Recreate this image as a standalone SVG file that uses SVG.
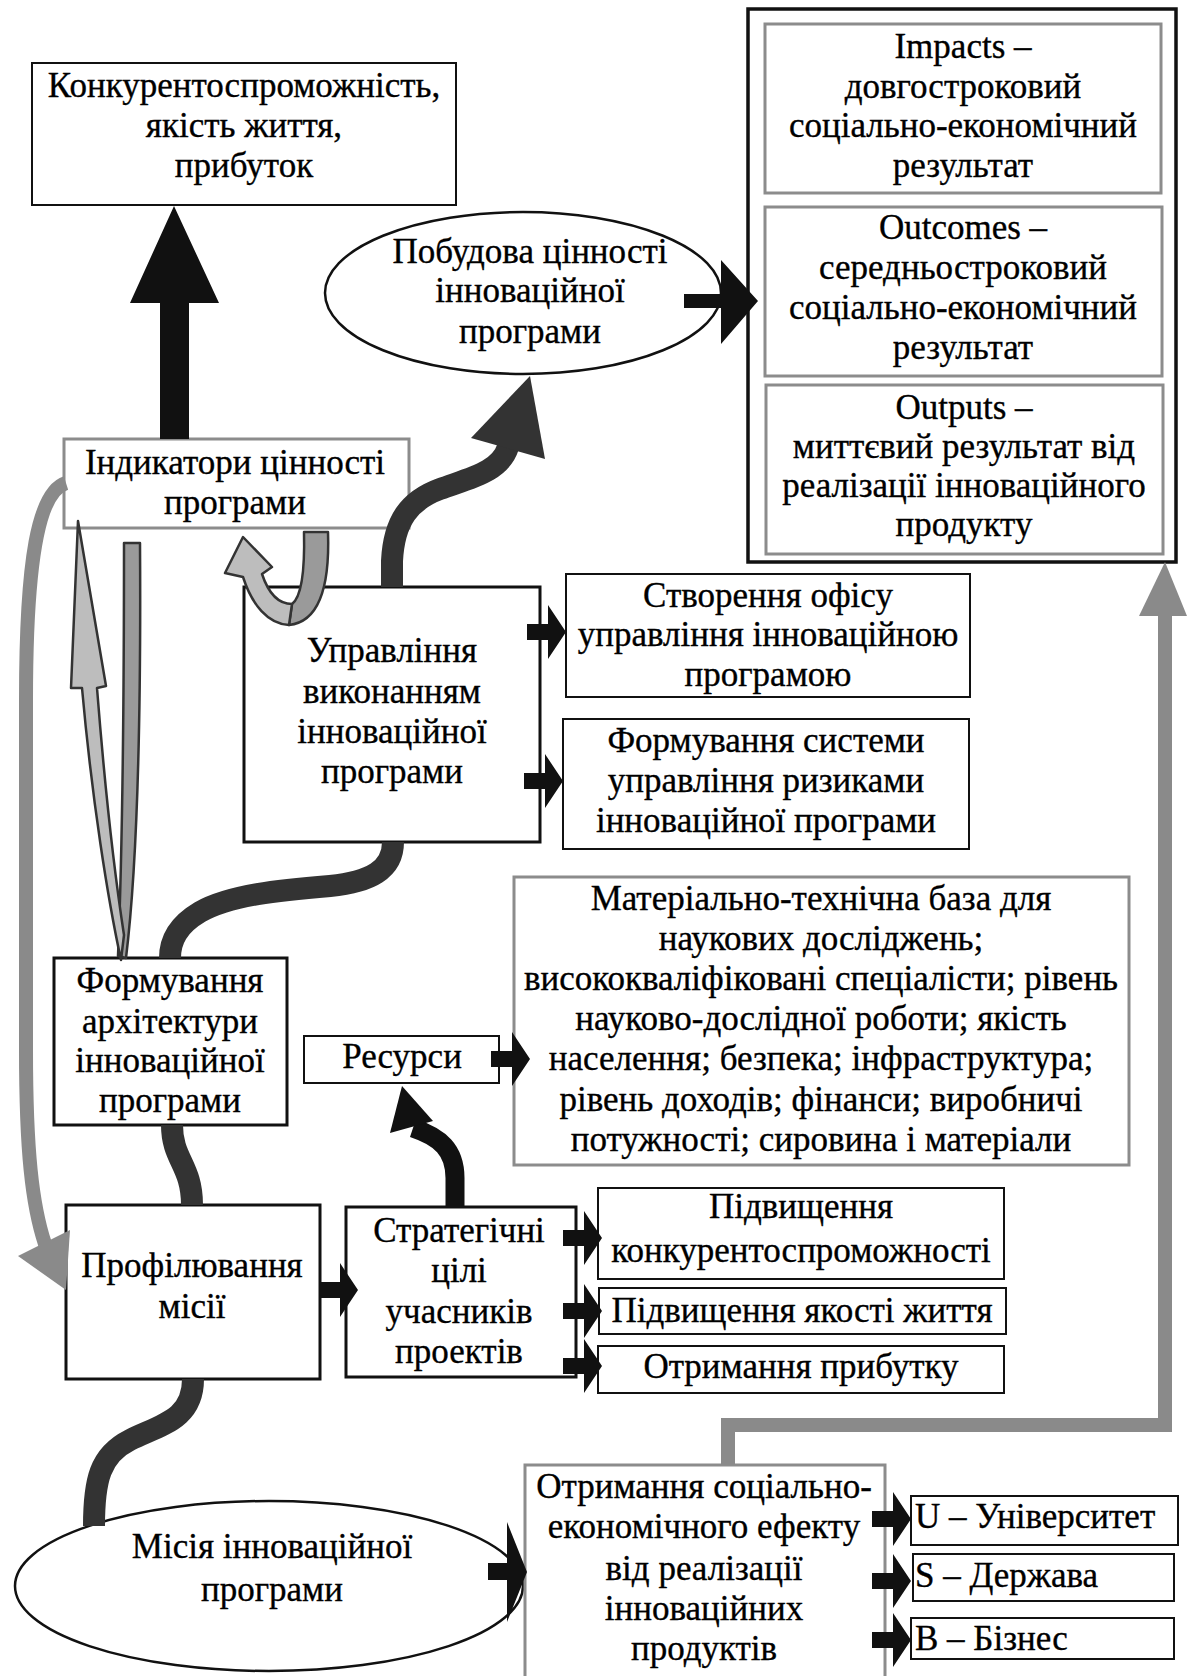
<svg xmlns="http://www.w3.org/2000/svg" width="1187" height="1676" viewBox="0 0 1187 1676">
  <style>
    .t { font-family: "Liberation Serif", "Times New Roman", serif; font-size: 35px; fill: #000; stroke: #000; stroke-width: 0.35; text-anchor: middle; }
    .tl { text-anchor: start; }
    .box { fill: #fff; stroke: #111; stroke-width: 2; }
    .bbox { fill: #fff; stroke: #111; stroke-width: 3; }
    .gbox { fill: #fff; stroke: #8c8c8c; stroke-width: 3; }
    .dark { fill: none; stroke: #333; stroke-width: 22; }
    .darkfill { fill: #333; }
    .blk { fill: #111; }
    .blkline { fill: none; stroke: #111; stroke-width: 19; }
    .gray { fill: none; stroke: #8a8a8a; stroke-width: 14; stroke-linejoin: miter; }
    .grayfill { fill: #8a8a8a; }
    .ribbonA { fill: #9a9a9a; stroke: #333; stroke-width: 2.5; stroke-linejoin: round; }
    .ribbonB { fill: #bdbdbd; stroke: #333; stroke-width: 2.5; stroke-linejoin: round; }
  </style>
  <defs>
    <!-- small block arrow, tip at the origin, pointing right -->
    <path id="ba" d="M -39 -8 L -18 -8 L -18 -27 L 0 0 L -18 27 L -18 8 L -39 8 Z"/>
  </defs>
  <rect width="1187" height="1676" fill="#fff"/>

  <g id="goal">
    <rect class="box" x="32" y="63" width="424" height="142"/>
    <text class="t" x="244" y="97">Конкурентоспроможність,</text>
    <text class="t" x="244" y="137">якість життя,</text>
    <text class="t" x="244" y="177">прибуток</text>
  </g>

  <g id="results">
    <rect fill="#fff" stroke="#111" stroke-width="3.5" x="748" y="9" width="428" height="553"/>
    <g id="impacts">
      <rect class="gbox" x="765" y="24" width="396" height="169"/>
      <text class="t" x="963" y="58">Impacts –</text>
      <text class="t" x="963" y="98">довгостроковий</text>
      <text class="t" x="963" y="137">соціально-економічний</text>
      <text class="t" x="963" y="177">результат</text>
    </g>
    <g id="outcomes">
      <rect class="gbox" x="765" y="207" width="397" height="169"/>
      <text class="t" x="963" y="239">Outcomes –</text>
      <text class="t" x="963" y="279">середньостроковий</text>
      <text class="t" x="963" y="319">соціально-економічний</text>
      <text class="t" x="963" y="359">результат</text>
    </g>
    <g id="outputs">
      <rect class="gbox" x="766" y="385" width="397" height="169"/>
      <text class="t" x="964" y="419">Outputs –</text>
      <text class="t" x="964" y="458">миттєвий результат від</text>
      <text class="t" x="964" y="497">реалізації інноваційного</text>
      <text class="t" x="964" y="536">продукту</text>
    </g>
  </g>

  <g id="value">
    <ellipse fill="#fff" stroke="#111" stroke-width="2.5" cx="523" cy="293" rx="198" ry="81"/>
    <text class="t" x="530" y="263">Побудова цінності</text>
    <text class="t" x="530" y="302">інноваційної</text>
    <text class="t" x="530" y="343">програми</text>
  </g>

  <g id="indicators">
    <rect class="gbox" x="64" y="439" width="345" height="89"/>
    <text class="t" x="235" y="474">Індикатори цінності</text>
    <text class="t" x="235" y="514">програми</text>
  </g>

  <g id="execution">
    <rect class="bbox" x="244" y="587" width="296" height="255"/>
    <text class="t" x="392" y="662">Управління</text>
    <text class="t" x="392" y="703">виконанням</text>
    <text class="t" x="392" y="743">інноваційної</text>
    <text class="t" x="392" y="783">програми</text>
  </g>

  <g id="office">
    <rect class="box" x="566" y="574" width="404" height="123"/>
    <text class="t" x="768" y="607">Створення офісу</text>
    <text class="t" x="768" y="646">управління інноваційною</text>
    <text class="t" x="768" y="686">програмою</text>
  </g>

  <g id="risks">
    <rect class="box" x="563" y="719" width="406" height="130"/>
    <text class="t" x="766" y="752">Формування системи</text>
    <text class="t" x="766" y="792">управління ризиками</text>
    <text class="t" x="766" y="832">інноваційної програми</text>
  </g>

  <g id="resource-list">
    <rect class="gbox" x="514" y="877" width="615" height="288"/>
    <text class="t" x="821" y="910">Матеріально-технічна база для</text>
    <text class="t" x="821" y="950">наукових досліджень;</text>
    <text class="t" x="821" y="990">висококваліфіковані спеціалісти; рівень</text>
    <text class="t" x="821" y="1030">науково-дослідної роботи; якість</text>
    <text class="t" x="821" y="1070">населення; безпека; інфраструктура;</text>
    <text class="t" x="821" y="1111">рівень доходів; фінанси; виробничі</text>
    <text class="t" x="821" y="1151">потужності; сировина і матеріали</text>
  </g>

  <g id="resources">
    <rect class="box" x="304" y="1036" width="195" height="47"/>
    <text class="t" x="402" y="1068">Ресурси</text>
  </g>

  <g id="architecture">
    <rect class="bbox" x="54" y="958" width="233" height="167"/>
    <text class="t" x="170" y="992">Формування</text>
    <text class="t" x="170" y="1033">архітектури</text>
    <text class="t" x="170" y="1072">інноваційної</text>
    <text class="t" x="170" y="1112">програми</text>
  </g>

  <g id="profiling">
    <rect class="bbox" x="66" y="1205" width="254" height="174"/>
    <text class="t" x="192" y="1277">Профілювання</text>
    <text class="t" x="192" y="1318">місії</text>
  </g>

  <g id="strategic">
    <rect class="bbox" x="346" y="1207" width="230" height="170"/>
    <text class="t" x="459" y="1242">Стратегічні</text>
    <text class="t" x="459" y="1282">цілі</text>
    <text class="t" x="459" y="1323">учасників</text>
    <text class="t" x="459" y="1363">проектів</text>
  </g>

  <g id="goal-competitiveness">
    <rect class="box" x="598" y="1188" width="406" height="91"/>
    <text class="t" x="801" y="1218">Підвищення</text>
    <text class="t" x="801" y="1262">конкурентоспроможності</text>
  </g>
  <g id="goal-life">
    <rect class="box" x="599" y="1288" width="407" height="46"/>
    <text class="t" x="802" y="1322">Підвищення якості життя</text>
  </g>
  <g id="goal-profit">
    <rect class="box" x="598" y="1346" width="406" height="47"/>
    <text class="t" x="801" y="1378">Отримання прибутку</text>
  </g>

  <g id="mission">
    <ellipse fill="#fff" stroke="#111" stroke-width="2.5" cx="269" cy="1586" rx="254" ry="85"/>
    <text class="t" x="272" y="1558">Місія інноваційної</text>
    <text class="t" x="272" y="1601">програми</text>
  </g>

  <g id="effect">
    <rect class="gbox" x="525" y="1465" width="360" height="260"/>
    <text class="t" x="704" y="1498">Отримання соціально-</text>
    <text class="t" x="704" y="1538">економічного ефекту</text>
    <text class="t" x="704" y="1580">від реалізації</text>
    <text class="t" x="704" y="1620">інноваційних</text>
    <text class="t" x="704" y="1660">продуктів</text>
  </g>

  <g id="university">
    <rect class="box" x="911" y="1496" width="267" height="49"/>
    <text class="t tl" x="915" y="1528">U – Університет</text>
  </g>
  <g id="state">
    <rect class="box" x="913" y="1554" width="261" height="47"/>
    <text class="t tl" x="915" y="1587">S – Держава</text>
  </g>
  <g id="business">
    <rect class="box" x="911" y="1618" width="263" height="41"/>
    <text class="t tl" x="915" y="1650">B – Бізнес</text>
  </g>

  <g id="connectors">
    <!-- indicators up to the goal box -->
    <path class="blk" d="M 160 439 L 160 303 L 130 303 L 174 206 L 219 303 L 189 303 L 189 439 Z"/>
    <!-- value building to results -->
    <path class="blk" d="M 684 294 L 721 294 L 721 260 L 758 301 L 721 344 L 721 308 L 684 308 Z"/>

    <!-- execution up to value building -->
    <path class="dark" d="M 392 587 L 392 561 C 394 520 410 500 440 489 C 470 478 500 472 508 447"/>
    <path class="darkfill" d="M 471 438 L 530 376 L 545 459 Z"/>
    <!-- execution down to architecture -->
    <path class="dark" d="M 393 842 C 393 870 370 882 330 886 C 280 890 230 895 200 912 C 178 925 170 940 170 958"/>
    <!-- architecture down to profiling -->
    <path class="dark" d="M 172 1125 C 172 1160 192 1165 192 1205"/>
    <!-- profiling down to mission -->
    <path class="dark" d="M 193 1379 C 193 1420 160 1425 130 1440 C 100 1455 94 1480 94 1526"/>

    <!-- strategic goals up to resources -->
    <path class="blkline" d="M 455 1207 L 455 1178 C 455 1150 440 1137 413 1128"/>
    <path class="blk" d="M 390 1133 L 402 1086 L 433 1121 Z"/>

    <!-- indicators back down to profiling -->
    <path class="gray" d="M 66 483 C 38 492 26 560 26 700 L 26 1050 C 26 1150 32 1205 45 1244"/>
    <path class="grayfill" d="M 18 1256 L 70 1230 L 66 1290 Z"/>

    <!-- effect up to results -->
    <path class="gray" d="M 728 1465 L 728 1425 L 1165 1425 L 1165 612"/>
    <path class="grayfill" d="M 1139 616 L 1165 562 L 1187 616 Z"/>

    <!-- ribbon loop from architecture to indicators -->
    <path class="ribbonA" d="M 124 543 L 140 543 C 141 700 138 860 126 958 L 118 956 C 122 860 124 700 124 543 Z"/>
    <path class="ribbonB" d="M 121 960 C 108 900 92 800 82 688 L 71 688 L 78 521 L 106 686 L 97 688 C 105 790 114 870 124 935 Z"/>
    <!-- ribbon loop from execution to indicators -->
    <path class="ribbonA" d="M 304 532 L 328 532 C 330 590 318 622 289 625 L 292 604 C 300 598 305 575 304 532 Z"/>
    <path class="ribbonB" d="M 289 625 C 268 624 252 605 243 577 L 225 573 L 243 537 L 272 567 L 262 574 C 268 592 278 604 292 604 Z"/>

    <!-- small block arrows -->
    <use href="#ba" class="blk" x="566" y="632"/>
    <use href="#ba" class="blk" x="563" y="781"/>
    <use href="#ba" class="blk" x="530" y="1059"/>
    <use href="#ba" class="blk" x="358" y="1290"/>
    <use href="#ba" class="blk" x="602" y="1238"/>
    <use href="#ba" class="blk" x="602" y="1311"/>
    <use href="#ba" class="blk" x="602" y="1366"/>
    <use href="#ba" class="blk" x="911" y="1519"/>
    <use href="#ba" class="blk" x="911" y="1581"/>
    <use href="#ba" class="blk" x="911" y="1640"/>
    <!-- mission to effect -->
    <path class="blk" d="M 488 1563 L 507 1563 L 507 1522 L 527 1572 L 507 1622 L 507 1580 L 488 1580 Z"/>
  </g>
</svg>
